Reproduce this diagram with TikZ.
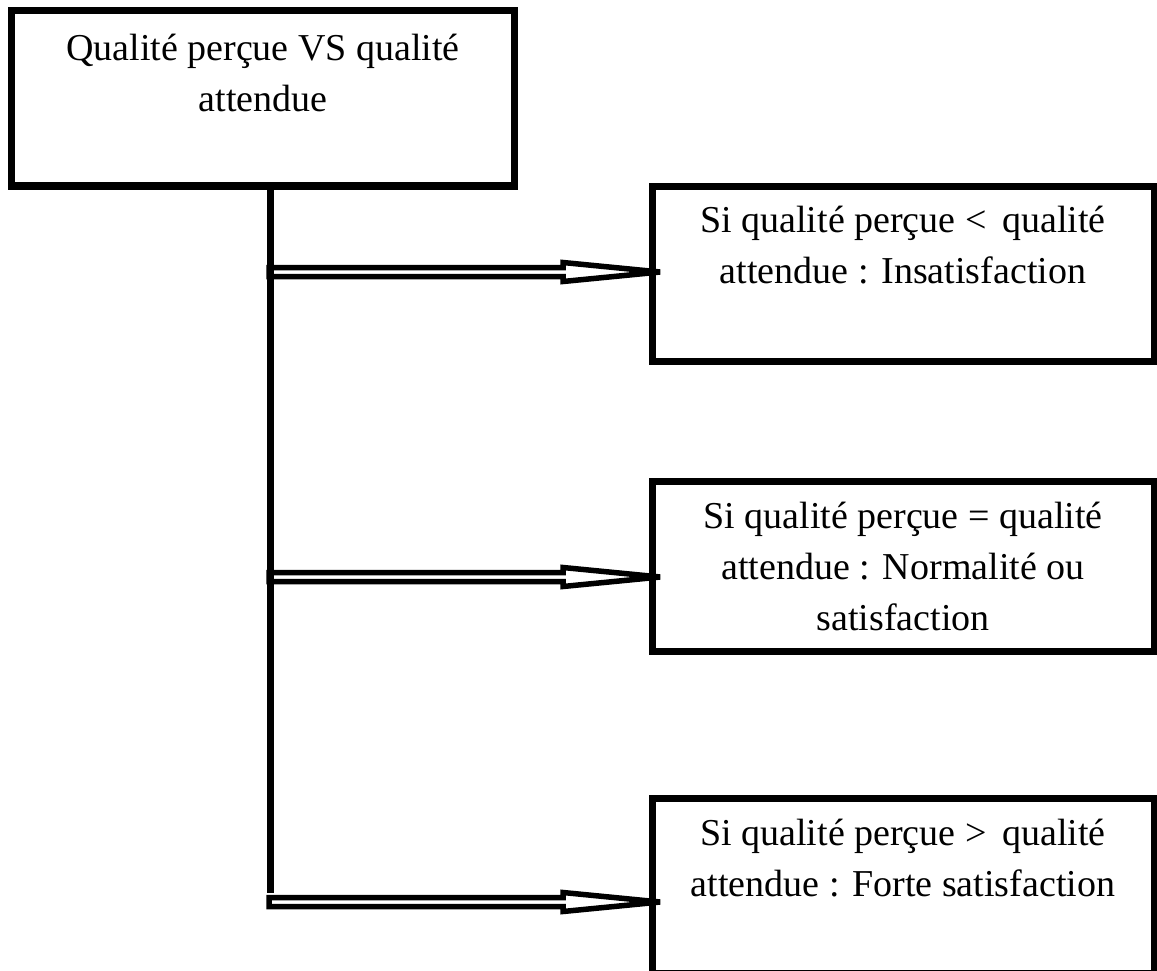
\documentclass[tikz,border=0pt]{standalone}
\usepackage{fontspec}
\setmainfont{Liberation Serif}
\usetikzlibrary{calc}
% hollow double-shaft arrow drawn as one outlined polygon from #1 to tip #2
\newcommand\hollowarrow[2]{%
  \draw[arrowline] ($(#1)+(0,-4.5)$) -- ($(#2)+(-97,-4.5)$) -- ($(#2)+(-97,-9.5)$)
    -- (#2) -- ($(#2)+(-97,9.5)$) -- ($(#2)+(-97,4.5)$) -- ($(#1)+(0,4.5)$) -- cycle;}
\begin{document}
\begin{tikzpicture}[x=1pt,y=-1pt,
  box/.style={draw, line width=7pt, inner sep=0pt, outer sep=0pt},
  lbl/.style={anchor=north, align=center, inner sep=0pt,
    font=\fontsize{38}{51}\selectfont},
  arrowline/.style={line width=5.5pt, line join=miter},
  trunk/.style={line width=7pt}]
\useasboundingbox (0,0) rectangle (1157,971);
\clip (0,0) rectangle (1157,971);

% boxes
\node[box, minimum width=503pt, minimum height=175pt] (top) at (262.5,98.5) {};
\node[box, minimum width=502pt, minimum height=174.5pt] (b1) at (903,273.75) {};
\node[box, minimum width=502pt, minimum height=170pt] (b2) at (903,566) {};
\node[box, minimum width=502pt, minimum height=175pt] (b3) at (903,886) {};

% texts
\node[lbl] (t0) at (263,34) {Qualité perçue VS qualité\\attendue};
\node[lbl] (t1) at (903,206) {Si qualité perçue <\, qualité\\attendue : Insatisfaction};
\node[lbl] (t2) at (903,502) {Si qualité perçue = qualité\\attendue : Normalité ou\\satisfaction};
\node[lbl] (t3) at (903,819) {Si qualité perçue >\, qualité\\attendue : Forte satisfaction};

% trunk
\coordinate (s) at (top.south -| 270,0);
\coordinate (e) at (270,893);
\draw[trunk] (s) -- (e);

% branches
\coordinate (j1) at (269,272);
\coordinate (j2) at (269,577);
\coordinate (j3) at (269,902);
\coordinate (p1) at ($(j1 -| b1.west)+(8,0)$);
\coordinate (p2) at ($(j2 -| b2.west)+(8,0)$);
\coordinate (p3) at ($(j3 -| b3.west)+(8,0)$);
\hollowarrow{j1}{p1}
\hollowarrow{j2}{p2}
\hollowarrow{j3}{p3}
\end{tikzpicture}
\end{document}
